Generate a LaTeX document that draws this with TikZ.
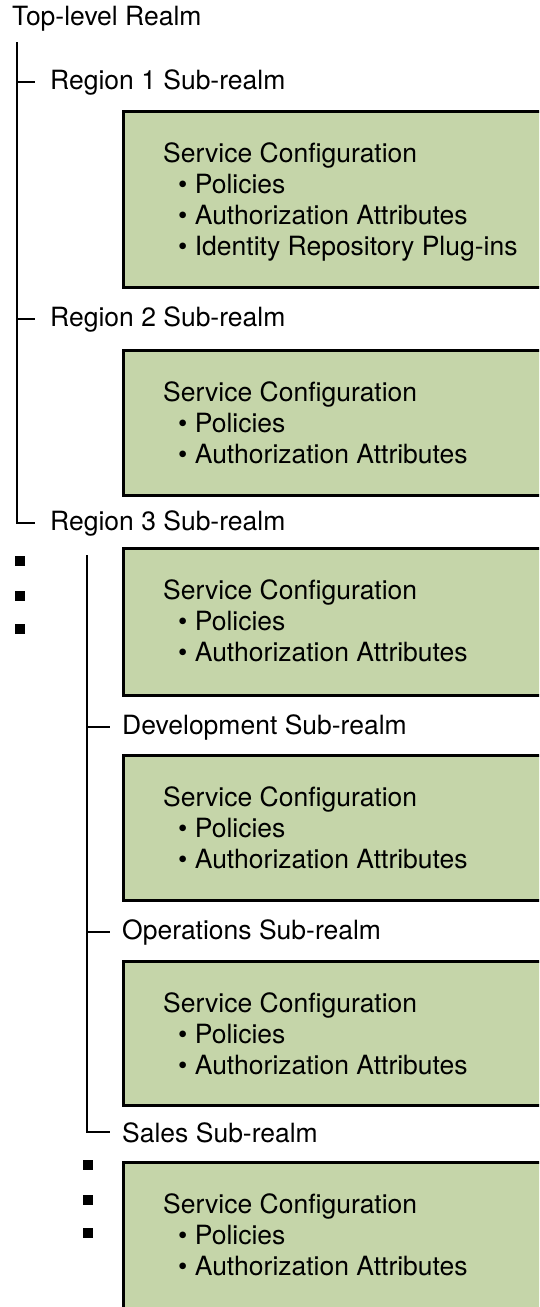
\documentclass[tikz,border=0pt]{standalone}
\usepackage{fontspec}
\setmainfont{TeX Gyre Heros}
\definecolor{realmgreen}{RGB}{197,213,169}

\begin{document}
\begin{tikzpicture}[x=1pt, y=-1pt,
    every node/.style={font=\fontsize{26.5}{31}\selectfont},
    realm/.style={anchor=base west, inner sep=0pt},
    svcbox/.style={draw, line width=3.5pt, fill=realmgreen, anchor=north west, inner sep=0pt, minimum width=440pt},
    svctext/.style={anchor=base west, align=left, inner sep=0pt},
    trunk/.style={line width=2.2pt},
    more/.style={fill=black, inner sep=0pt, minimum size=9.5pt}]
		    \useasboundingbox (0,0) rectangle (539,1307);
		    \clip (0,0) rectangle (539,1307);
		    
		    \node [realm] (top) at (12,25) {Top-level Realm};
		    \coordinate (t1) at (17,42);
		    
		    \node [realm] (r1) at (50,89) {Region 1 Sub-realm};
		    \node [realm] (r2) at (50,326) {Region 2 Sub-realm};
		    \node [realm] (r3) at (50,530) {Region 3 Sub-realm};
		    
			\draw [trunk] (t1) |- ([xshift=-15pt]r3.west);
			\draw [trunk] (r1.west -| t1) -- ([xshift=-15pt]r1.west);
			\draw [trunk] (r2.west -| t1) -- ([xshift=-15pt]r2.west);
			
			% text nodes sit on the baseline of their last line
		    \node [svcbox, minimum height=176pt] (b1) at (121.5,109.5) {};
		    \node [svctext] (s1) at (163,255) {Service Configuration\\\hspace*{15pt}\textbullet\ Policies\\\hspace*{15pt}\textbullet\ Authorization Attributes\\\hspace*{15pt}\textbullet\ Identity Repository Plug-ins};
		    
		    \node [svcbox, minimum height=145pt] (b2) at (121.5,348.5) {};
		    \node [svctext] (s2) at (163,463) {Service Configuration\\\hspace*{15pt}\textbullet\ Policies\\\hspace*{15pt}\textbullet\ Authorization Attributes};
		    
		    \node [svcbox, minimum height=147pt] (b3) at (121.5,546.5) {};
		    \node [svctext] (s3) at (163,661) {Service Configuration\\\hspace*{15pt}\textbullet\ Policies\\\hspace*{15pt}\textbullet\ Authorization Attributes};
		    
		    \node [more] (m1) at (20,561) {};
		    \node [more] (m2) at (20,596) {};
		    \node [more] (m3) at (20,629) {};
		    
		    \coordinate (t2) at (87,555);
		    
		    \node [realm] (dev) at (122,734) {Development Sub-realm};
		    \node [realm] (ops) at (122,939) {Operations Sub-realm};
		    \node [realm] (sales) at (122,1142) {Sales Sub-realm};
		    
			\draw [trunk] (t2) |- ([xshift=-12pt]sales.west);
			\draw [trunk] (dev.west -| t2) -- ([xshift=-12pt]dev.west);
			\draw [trunk] (ops.west -| t2) -- ([xshift=-12pt]ops.west);
			
		    \node [svcbox, minimum height=145pt] (b4) at (121.5,753.5) {};
		    \node [svctext] (s4) at (163,868) {Service Configuration\\\hspace*{15pt}\textbullet\ Policies\\\hspace*{15pt}\textbullet\ Authorization Attributes};
		    
		    \node [svcbox, minimum height=144pt] (b5) at (121.5,959.5) {};
		    \node [svctext] (s5) at (163,1074) {Service Configuration\\\hspace*{15pt}\textbullet\ Policies\\\hspace*{15pt}\textbullet\ Authorization Attributes};
		    
		    \node [svcbox, minimum height=200pt] (b6) at (121.5,1160.5) {};
		    \node [svctext] (s6) at (163,1275) {Service Configuration\\\hspace*{15pt}\textbullet\ Policies\\\hspace*{15pt}\textbullet\ Authorization Attributes};
		    
		    \node [more] (m4) at (88,1165) {};
		    \node [more] (m5) at (88,1200) {};
		    \node [more] (m6) at (88,1233) {};
		\end{tikzpicture}
\end{document}
